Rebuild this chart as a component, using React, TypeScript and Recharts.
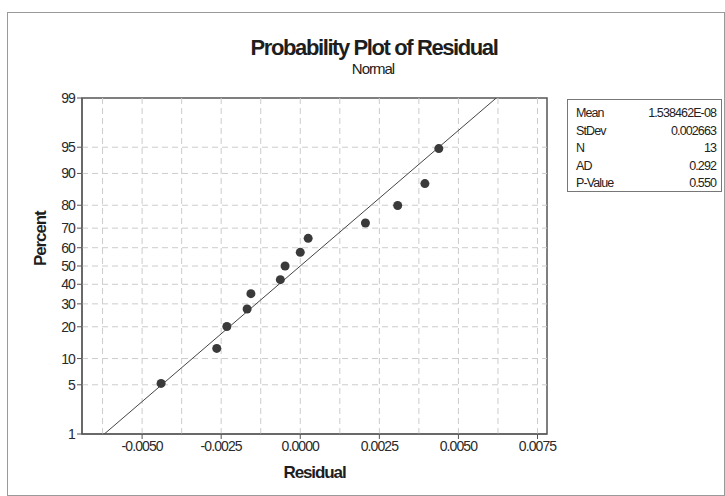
import React from 'react';
import {
  ComposedChart,
  Scatter,
  XAxis,
  YAxis,
  ReferenceLine,
  ReferenceArea,
} from 'recharts';

// residuals, sorted
const residuals = [
  -0.0044, -0.00264, -0.00232, -0.00168, -0.00156, -0.00063, -0.00048, 0.0, 0.00025, 0.00206,
  0.00308, 0.00394, 0.00438,
];
// plotting positions (percent)
const percents = [5.2, 12.7, 20.1, 27.6, 35.1, 42.5, 50, 57.5, 64.9, 72.4, 79.9, 87.3, 94.8];

const percentTicks = [1, 5, 10, 20, 30, 40, 50, 60, 70, 80, 90, 95, 99];
const percentGrid = [5, 10, 20, 30, 40, 50, 60, 70, 80, 90, 95];
const residualTicks = [-0.005, -0.0025, 0, 0.0025, 0.005, 0.0075];
const residualGrid = [-0.00625, -0.005, -0.00375, -0.0025, -0.00125, 0, 0.00125, 0.0025, 0.00375, 0.005, 0.00625, 0.0075];

const statLabels = ['Mean', 'StDev', 'N', 'AD', 'P-Value'];
const statValues = ['1.538462E-08', '0.002663', '13', '0.292', '0.550'];

const fitMean = 1.538462e-8;
const fitSd = 0.002663;

const X_DOMAIN: [number, number] = [-0.0069, 0.0078];

// inverse standard normal (Acklam)
function probit(p: number): number {
  const a = [-39.69683028665376, 220.9460984245205, -275.9285104469687, 138.357751867269, -30.66479806614716, 2.506628277459239];
  const b = [-54.47609879822406, 161.5858368580409, -155.6989798598866, 66.80131188771972, -13.28068155288572];
  const c = [-0.007784894002430293, -0.3223964580411365, -2.400758277161838, -2.549732539343734, 4.374664141464968, 2.938163982698783];
  const d = [0.007784695709041462, 0.3224671290700398, 2.445134137142996, 3.754408661907416];
  const pl = 0.02425;
  if (p < pl) {
    const q = Math.sqrt(-2 * Math.log(p));
    return (((((c[0] * q + c[1]) * q + c[2]) * q + c[3]) * q + c[4]) * q + c[5]) / ((((d[0] * q + d[1]) * q + d[2]) * q + d[3]) * q + 1);
  }
  if (p > 1 - pl) {
    const q = Math.sqrt(-2 * Math.log(1 - p));
    return -(((((c[0] * q + c[1]) * q + c[2]) * q + c[3]) * q + c[4]) * q + c[5]) / ((((d[0] * q + d[1]) * q + d[2]) * q + d[3]) * q + 1);
  }
  const q = p - 0.5;
  const r = q * q;
  return ((((((a[0] * r + a[1]) * r + a[2]) * r + a[3]) * r + a[4]) * r + a[5]) * q) / (((((b[0] * r + b[1]) * r + b[2]) * r + b[3]) * r + b[4]) * r + 1);
}

const zTicks = percentTicks.map((p) => probit(p / 100));
const zMin = probit(0.01);
const zMax = probit(0.99);
const Y_DOMAIN: [number, number] = [zMin - 1e-9, zMax + 1e-9];

const percentLabel = (v: number) => {
  const i = zTicks.findIndex((z) => Math.abs(z - v) < 1e-6);
  return i >= 0 ? String(percentTicks[i]) : '';
};

const points = residuals.map((x, i) => ({ x, z: probit(percents[i] / 100) }));
const fitLine = [
  { x: fitMean + zMin * fitSd, z: zMin },
  { x: fitMean + zMax * fitSd, z: zMax },
];

const font = '"Liberation Sans", Arial, sans-serif';
const tickStyle = { fontSize: 14, fill: '#2a2a2a', fontFamily: font, letterSpacing: -0.9 };

export default function App() {
  return (
    <div style={{ position: 'absolute', left: 0, top: 0, width: 725, height: 496, background: '#fff', fontFamily: font }}>
      <div style={{ position: 'absolute', left: 7, top: 12, width: 716, height: 482, border: '1px solid #9a9a9a' }} />
      <div style={{ position: 'absolute', left: 0, width: 748, top: 35, textAlign: 'center', fontWeight: 'bold', fontSize: 22, letterSpacing: -1.4, color: '#1e1e1e' }}>
        Probability Plot of Residual
      </div>
      <div style={{ position: 'absolute', left: 0, width: 746, top: 60, textAlign: 'center', fontSize: 15, letterSpacing: -1, color: '#222' }}>
        Normal
      </div>
      <ComposedChart
        width={725}
        height={496}
        margin={{ top: 98, right: 178, bottom: 32, left: 52 }}
        style={{ position: 'absolute', left: 0, top: 0 }}
      >
        <XAxis
          type="number"
          dataKey="x"
          domain={X_DOMAIN}
          ticks={residualTicks}
          allowDataOverflow
          tickFormatter={(v: number) => v.toFixed(4)}
          tick={tickStyle}
          tickSize={5}
          stroke="#555"
          height={30}
          label={{ value: 'Residual', position: 'insideBottom', offset: -14, fontSize: 17, fontWeight: 'bold', fill: '#1e1e1e', fontFamily: font, letterSpacing: -1.1 }}
        />
        <YAxis
          type="number"
          dataKey="z"
          domain={Y_DOMAIN}
          ticks={zTicks}
          allowDataOverflow
          interval={0}
          tickFormatter={percentLabel}
          tick={tickStyle}
          tickSize={5}
          stroke="#555"
          width={30}
          label={{ value: 'Percent', angle: -90, position: 'insideLeft', offset: -12, fontSize: 17, fontWeight: 'bold', fill: '#1e1e1e', fontFamily: font, letterSpacing: -1.1 }}
        />
        {percentGrid.map((p) => (
          <ReferenceLine key={'h' + p} y={probit(p / 100)} stroke="#cccccc" strokeDasharray="6 4" />
        ))}
        {residualGrid.map((x, i) => (
          <ReferenceLine key={'v' + i} x={x} stroke="#cccccc" strokeDasharray="6 4" />
        ))}
        <ReferenceArea x1={X_DOMAIN[0]} x2={X_DOMAIN[1]} y1={zMin} y2={zMax} fill="none" stroke="#555" strokeWidth={1.5} />
        <Scatter data={fitLine} line={{ stroke: '#444', strokeWidth: 1 }} shape={() => null} isAnimationActive={false} />
        <Scatter data={points} fill="#3a3a3a" isAnimationActive={false} shape={(p: any) => <circle cx={p.cx} cy={p.cy} r={4.5} fill="#3a3a3a" />} />
      </ComposedChart>
      <div style={{ position: 'absolute', left: 567, top: 99, width: 155, height: 93, border: '1px solid #777', fontSize: 12.5, letterSpacing: -0.9, color: '#222', lineHeight: '17.5px', boxSizing: 'border-box', padding: '5px 5px 0 8px' }}>
        {statLabels.map((l, i) => (
          <div key={l} style={{ display: 'flex', justifyContent: 'space-between' }}>
            <span>{l}</span>
            <span>{statValues[i]}</span>
          </div>
        ))}
      </div>
    </div>
  );
}
